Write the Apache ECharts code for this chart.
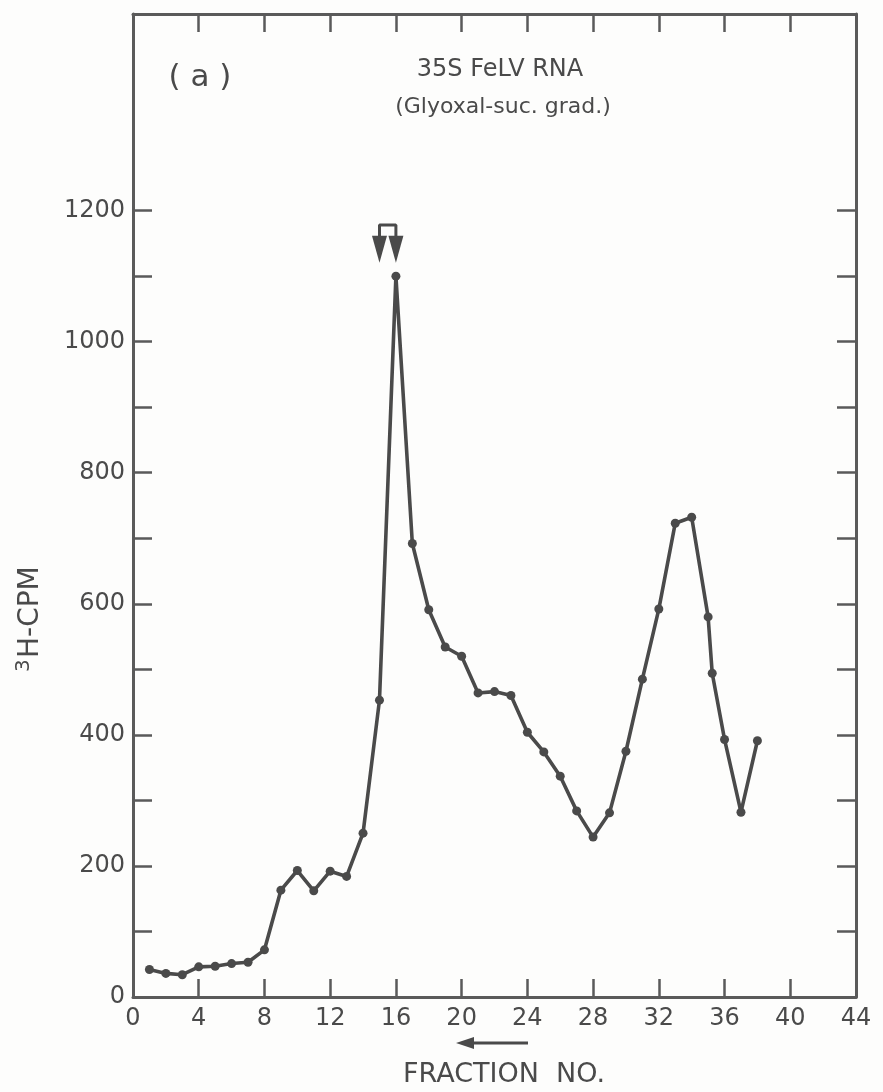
<!DOCTYPE html>
<html>
<head>
<meta charset="utf-8">
<title>35S FeLV RNA</title>
<script src="https://cdn.jsdelivr.net/npm/echarts@6/dist/echarts.min.js"></script>
<style>
  html, body { margin: 0; padding: 0; background: #fdfdfc; }
  #chart { width: 883px; height: 1092px; }
</style>
</head>
<body>
<div id="chart"></div>
<script>
// Gradient fractions and tritium counts (3H-CPM)
var fractions = [1, 2, 3, 4, 5, 6, 7, 8, 9, 10, 11, 12, 13, 14, 15, 16, 17, 18, 19, 20,
                 21, 22, 23, 24, 25, 26, 27, 28, 29, 30, 31, 32, 33, 34, 35, 35.25, 36, 37, 38];
var cpm = [42, 36, 34, 46, 47, 51, 53, 72, 163, 193, 162, 192, 184, 250, 453, 1100, 692, 591, 534, 520,
           464, 466, 460, 404, 374, 337, 284, 244, 281, 375, 485, 592, 723, 732, 580, 494, 393, 282, 391];

// Fractions marked by the bracketed arrows above the main peak
var markedFractions = [15, 16];

// Axis ticks and labels
var xLabelValues = [0, 4, 8, 12, 16, 20, 24, 28, 32, 36, 40, 44];
var xTickValues = [4, 8, 12, 16, 20, 24, 28, 32, 36, 40];
var yLabelValues = [0, 200, 400, 600, 800, 1000, 1200];
var yTickValues = [100, 200, 300, 400, 500, 600, 700, 800, 900, 1000, 1100, 1200];

var ink = '#4a4a4a';
var axisInk = '#5a5a5a';
var font = '"DejaVu Sans", Verdana, sans-serif';

var points = fractions.map(function (f, i) { return [f, cpm[i]]; });
var plain = function (v) { return String(v); };

var chart = echarts.init(document.getElementById('chart'), null, { renderer: 'canvas' });

var frameLine = { show: true, onZero: false, lineStyle: { color: axisInk, width: 3 } };
var tickStyle = { color: axisInk, width: 2.5 };

var option = {
  backgroundColor: '#fdfdfc',
  animation: false,
  grid: { left: 133, right: 27, top: 14, bottom: 95, containLabel: false },
  xAxis: [
    {
      type: 'value', min: 0, max: 44, interval: 4, position: 'bottom',
      axisLine: frameLine,
      axisTick: { show: true, inside: true, length: 18, lineStyle: tickStyle, customValues: xTickValues },
      axisLabel: { customValues: xLabelValues, formatter: plain, margin: 10, fontSize: 24, color: ink, fontFamily: font },
      splitLine: { show: false }
    },
    {
      type: 'value', min: 0, max: 44, interval: 4, position: 'top',
      axisLine: frameLine,
      axisTick: { show: true, inside: true, length: 18, lineStyle: tickStyle, customValues: xTickValues },
      axisLabel: { show: false },
      splitLine: { show: false }
    }
  ],
  yAxis: [
    {
      type: 'value', min: 0, max: 1500, interval: 100, position: 'left',
      axisLine: frameLine,
      axisTick: { show: true, inside: true, length: 19, lineStyle: tickStyle, customValues: yTickValues },
      axisLabel: { customValues: yLabelValues, formatter: plain, margin: 8, fontSize: 24, color: ink, fontFamily: font },
      splitLine: { show: false }
    },
    {
      type: 'value', min: 0, max: 1500, interval: 100, position: 'right',
      axisLine: frameLine,
      axisTick: { show: true, inside: true, length: 19, lineStyle: tickStyle, customValues: yTickValues },
      axisLabel: { show: false },
      splitLine: { show: false }
    }
  ],
  series: [
    {
      name: 'FeLV RNA',
      type: 'line',
      data: points,
      symbol: 'circle',
      symbolSize: 9,
      itemStyle: { color: ink, opacity: 1 },
      lineStyle: { color: ink, width: 3.6 },
      z: 3
    },
    {
      // bracket joining the two marked fractions
      type: 'line',
      data: [[markedFractions[0], 1150], [markedFractions[0], 1178], [markedFractions[1], 1178], [markedFractions[1], 1150]],
      symbol: 'none',
      lineStyle: { color: ink, width: 3 },
      z: 3
    },
    {
      // downward arrowheads under the bracket
      type: 'scatter',
      data: markedFractions.map(function (f) { return [f, 1141]; }),
      symbol: 'path://M0,0 L12,0 L6,22 Z',
      symbolSize: [15, 27],
      itemStyle: { color: ink, opacity: 1 },
      z: 4
    }
  ],
  graphic: [
    {
      type: 'text', x: 200, y: 78,
      style: { text: '( a )', font: '31px ' + font, fill: ink, align: 'center', verticalAlign: 'middle' }
    },
    {
      type: 'text', x: 500, y: 70,
      style: { text: '35S FeLV RNA', font: '24px ' + font, fill: ink, align: 'center', verticalAlign: 'middle' }
    },
    {
      type: 'text', x: 503, y: 107,
      style: { text: '(Glyoxal-suc. grad.)', font: '22px ' + font, fill: ink, align: 'center', verticalAlign: 'middle' }
    },
    {
      // vertical axis title with superscript mass number
      type: 'group', x: 31, y: 600, rotation: Math.PI / 2,
      children: [
        { type: 'text', x: -72, y: -7, style: { text: '3', font: '20px ' + font, fill: ink, align: 'left', verticalAlign: 'middle' } },
        { type: 'text', x: -58, y: 0, style: { text: 'H-CPM', font: '28px ' + font, fill: ink, align: 'left', verticalAlign: 'middle' } }
      ]
    },
    {
      type: 'text', x: 504, y: 1075,
      style: { text: 'FRACTION  NO.', font: '27px ' + font, fill: ink, align: 'center', verticalAlign: 'middle' }
    },
    {
      // direction arrow above the axis title
      type: 'group',
      children: [
        { type: 'line', shape: { x1: 466, y1: 1043, x2: 528, y2: 1043 }, style: { stroke: ink, lineWidth: 3 } },
        { type: 'polygon', shape: { points: [[456, 1043], [474, 1037], [474, 1049]] }, style: { fill: ink } }
      ]
    }
  ]
};

chart.setOption(option);
</script>
</body>
</html>
